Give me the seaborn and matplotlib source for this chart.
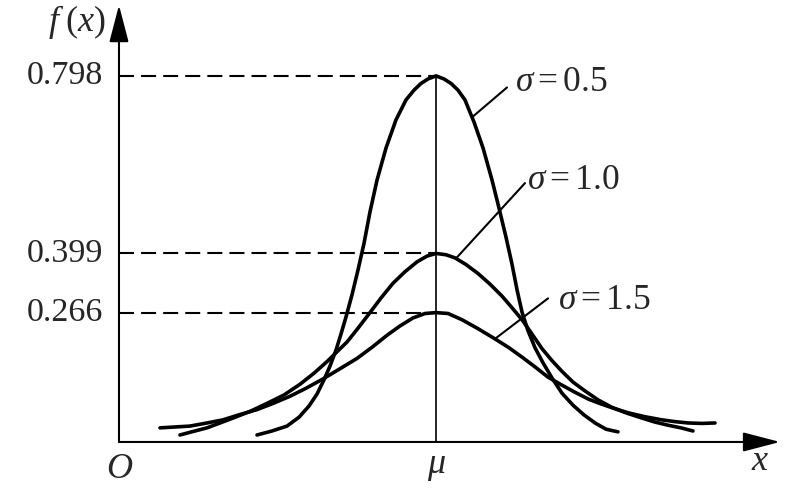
import numpy as np
import pandas as pd
import matplotlib
matplotlib.use("Agg")
import matplotlib.pyplot as plt
import seaborn as sns

# ---- data (x: O = 0, mu = 3) ----
peak_values = [0.798, 0.399, 0.266]
peak_labels = ["0.798", "0.399", "0.266"]
sigma_names = ["0.5", "1.0", "1.5"]
mu_x = 3.0

x_s05 = [1.306, 1.448, 1.590, 1.704, 1.798, 1.874, 1.940, 1.997, 2.054, 2.101, 2.148, 2.205,
         2.262, 2.319, 2.375, 2.442, 2.527, 2.621, 2.716, 2.792, 2.858, 2.924, 3.000,
         3.076, 3.142, 3.208, 3.274, 3.360, 3.445, 3.530, 3.596, 3.662, 3.719, 3.767, 3.814,
         3.871, 3.937, 4.013, 4.098, 4.192, 4.296, 4.401, 4.505, 4.609, 4.722]
f_s05 = [-0.009, 0.000, 0.011, 0.031, 0.056, 0.083, 0.115, 0.146, 0.182, 0.218, 0.256, 0.306,
         0.362, 0.422, 0.492, 0.564, 0.636, 0.699, 0.744, 0.766, 0.781, 0.791, 0.798,
         0.791, 0.781, 0.766, 0.744, 0.694, 0.636, 0.564, 0.501, 0.436, 0.375, 0.317, 0.267,
         0.225, 0.187, 0.153, 0.119, 0.085, 0.058, 0.036, 0.018, 0.004, -0.002]

x_s10 = [0.577, 0.719, 0.833, 0.956, 1.079, 1.240, 1.401, 1.562, 1.713, 1.846, 1.969, 2.063,
         2.158, 2.262, 2.375, 2.480, 2.593, 2.707, 2.820, 2.915, 3.000,
         3.095, 3.180, 3.284, 3.397, 3.511, 3.625, 3.719, 3.814, 3.908, 4.003, 4.098, 4.192,
         4.296, 4.410, 4.533, 4.665, 4.807, 4.949, 5.072, 5.195, 5.318, 5.432]
f_s10 = [-0.009, 0.000, 0.007, 0.018, 0.029, 0.044, 0.062, 0.081, 0.105, 0.130, 0.156, 0.178,
         0.200, 0.231, 0.266, 0.299, 0.332, 0.358, 0.380, 0.393, 0.399,
         0.396, 0.389, 0.374, 0.354, 0.330, 0.303, 0.277, 0.250, 0.218, 0.185, 0.158, 0.134,
         0.110, 0.090, 0.070, 0.053, 0.040, 0.029, 0.020, 0.013, 0.007, 0.000]

x_s15 = [0.388, 0.530, 0.672, 0.833, 0.984, 1.145, 1.306, 1.458, 1.618, 1.770, 1.931, 2.092,
         2.252, 2.394, 2.536, 2.659, 2.782, 2.896, 3.000,
         3.114, 3.246, 3.397, 3.558, 3.691, 3.814, 3.937, 4.060, 4.192, 4.315, 4.448, 4.571,
         4.694, 4.817, 4.978, 5.139, 5.262, 5.385, 5.517, 5.640]
f_s15 = [0.007, 0.009, 0.011, 0.018, 0.025, 0.037, 0.048, 0.062, 0.078, 0.096, 0.117, 0.140,
         0.163, 0.188, 0.215, 0.236, 0.254, 0.264, 0.266,
         0.264, 0.250, 0.230, 0.207, 0.187, 0.166, 0.144, 0.121, 0.103, 0.087, 0.071, 0.060,
         0.050, 0.041, 0.032, 0.025, 0.021, 0.018, 0.017, 0.018]

df = pd.concat([
    pd.DataFrame({"x": x_s05, "f": f_s05, "sigma": sigma_names[0]}),
    pd.DataFrame({"x": x_s10, "f": f_s10, "sigma": sigma_names[1]}),
    pd.DataFrame({"x": x_s15, "f": f_s15, "sigma": sigma_names[2]}),
], ignore_index=True)

# ---- styling ----
sns.set_style("white")
plt.rcParams["font.family"] = ["Liberation Serif", "DejaVu Serif"]
plt.rcParams["mathtext.fontset"] = "custom"
plt.rcParams["mathtext.rm"] = "Liberation Serif"
plt.rcParams["mathtext.it"] = "Liberation Serif:italic"
plt.rcParams["mathtext.bf"] = "Liberation Serif:bold"

fig = plt.figure(figsize=(8.01, 5.0), dpi=100)
ax = fig.add_axes([0, 0, 1, 1])
ax.set_xlim(-1.126, 6.454)
ax.set_ylim(-0.1551, 0.9685)
ax.set_axis_off()

sns.lineplot(data=df, x="x", y="f", hue="sigma", palette=["black"] * 3, sort=False,
             estimator=None, legend=False, linewidth=2.6, ax=ax,
             solid_joinstyle="round", solid_capstyle="round")

axis_y = -0.0247
# axes with arrows
arrow_kw = dict(arrowstyle="-|>,head_length=1.15,head_width=0.3", mutation_scale=20,
                color="black", lw=1.5, shrinkA=0, shrinkB=0)
ax.annotate("", xy=(6.255, axis_y), xytext=(0, axis_y), arrowprops=arrow_kw)
ax.annotate("", xy=(0, 0.957), xytext=(0, axis_y), arrowprops=arrow_kw)

# vertical line at mu
ax.plot([mu_x, mu_x], [axis_y, peak_values[0]], color="black", lw=1.2)

# dashed reference lines and their labels
for v, lab in zip(peak_values, peak_labels):
    ax.plot([0, mu_x], [v, v], color="black", lw=1.5, dashes=(7.2, 3.4))
    ax.text(-0.151, v, lab, ha="right", va="center", fontsize=24.5)

# leader lines and sigma labels
leaders = [((3.341, 0.705), (3.672, 0.772), (3.748, 0.783)),
           ((3.190, 0.388), (3.842, 0.557), (3.861, 0.563)),
           ((3.558, 0.207), (4.060, 0.298), (4.155, 0.294))]
for (p0, p1, t), lab in zip(leaders, sigma_names):
    ax.plot([p0[0], p1[0]], [p0[1], p1[1]], color="black", lw=1.5)
    ax.text(t[0], t[1], r"$\sigma = %s$" % lab, ha="left", va="center", fontsize=25.5)

ax.text(-0.125, 0.918, r"$f\;(x)$", ha="right", va="center", fontsize=26)
ax.text(0.005, -0.086, r"$O$", ha="center", va="center", fontsize=26)
ax.text(3.009, -0.079, r"$\mu$", ha="center", va="center", fontsize=26)
ax.text(6.066, -0.068, r"$x$", ha="center", va="center", fontsize=26)

fig.savefig("out.png", dpi=100)
